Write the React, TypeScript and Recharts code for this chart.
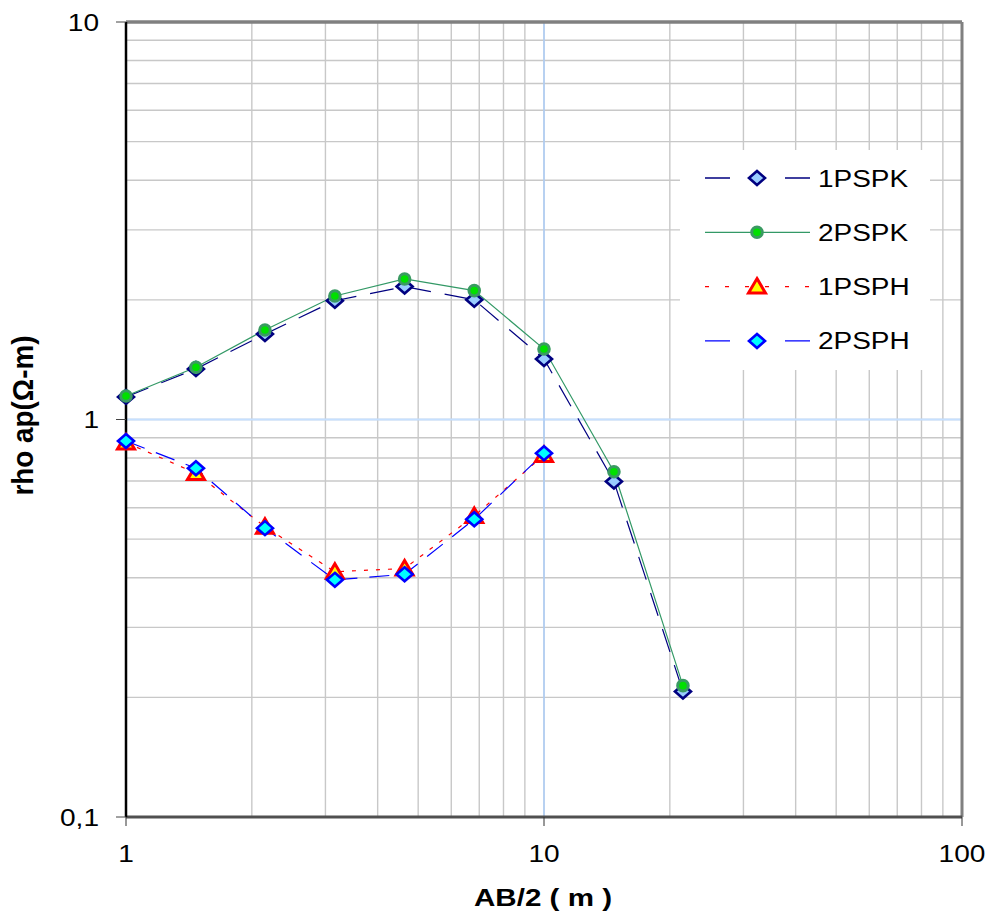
import React from 'react';
import { LineChart, Line, XAxis, YAxis, CartesianGrid, ReferenceLine, Legend, Label } from 'recharts';

// ---- data ----
const abHalf = [1, 1.47, 2.15, 3.16, 4.64, 6.81, 10, 14.7, 21.5];
const rho1PSPK = [1.14, 1.34, 1.64, 1.99, 2.16, 2.0, 1.42, 0.698, 0.207];
const rho2PSPK = [1.146, 1.353, 1.68, 2.045, 2.257, 2.11, 1.504, 0.739, 0.214];
const rho1PSPH = [0.875, 0.733, 0.537, 0.414, 0.422, 0.572, 0.814];
const rho2PSPH = [0.883, 0.754, 0.533, 0.395, 0.408, 0.561, 0.822];
const seriesNames = ['1PSPK', '2PSPK', '1PSPH', '2PSPH'];

const xTicks = [1, 2, 3, 4, 5, 6, 7, 8, 9, 10, 20, 30, 40, 50, 60, 70, 80, 90, 100];
const yTicks = [0.1, 0.2, 0.3, 0.4, 0.5, 0.6, 0.7, 0.8, 0.9, 1, 2, 3, 4, 5, 6, 7, 8, 9, 10];
const xMajorLabels: Record<string, string> = { '1': '1', '10': '10', '100': '100' };
const yMajorLabels: Record<string, string> = { '0.1': '0,1', '1': '1', '10': '10' };
const xTitle = 'AB/2 ( m )';
const yTitle = 'rho ap(\u03A9-m)';

const toPoints = (ys: number[]) => ys.map((y, i) => ({ x: abHalf[i], y }));

const FONT = '"Liberation Sans", Arial, sans-serif';
const X_TICK_SIZE = 9;
const X_TICK_MARGIN = 7;
const Y_TICK_SIZE = 10;
const Y_TICK_MARGIN = 17;
const SX = 1.17;

// ---- markers ----
const DiamondShape = ({ cx, cy, fill, stroke }: any) => (
  <path
    d={`M${cx},${cy - 7}L${cx + 8},${cy}L${cx},${cy + 7}L${cx - 8},${cy}Z`}
    fill={fill}
    stroke={stroke}
    strokeWidth={2.6}
    strokeLinejoin="miter"
  />
);
const CircleShape = ({ cx, cy }: any) => (
  <circle cx={cx} cy={cy} r={5.3} fill="#00e000" stroke="#3a9a62" strokeWidth={3} />
);
const TriangleShape = ({ cx, cy }: any) => (
  <path
    d={`M${cx},${cy - 8}L${cx + 8.5},${cy + 6.5}L${cx - 8.5},${cy + 6.5}Z`}
    fill="#ffff00"
    stroke="#ff0000"
    strokeWidth={3}
    strokeLinejoin="miter"
  />
);

const seriesStyles = [
  { color: '#000080', dash: '24 14', legendDash: '25 55', marker: (cx: number, cy: number) => <DiamondShape cx={cx} cy={cy} fill="#99ccff" stroke="#000080" /> },
  { color: '#339966', dash: undefined, legendDash: undefined, marker: (cx: number, cy: number) => <CircleShape cx={cx} cy={cy} /> },
  { color: '#ff0000', dash: '4 8', legendDash: '4 16', marker: (cx: number, cy: number) => <TriangleShape cx={cx} cy={cy} /> },
  { color: '#0000ff', dash: '20 12', legendDash: '25 55', marker: (cx: number, cy: number) => <DiamondShape cx={cx} cy={cy} fill="#00ffff" stroke="#0000ff" /> },
];

const makeDot = (idx: number) => (props: any) => {
  const { cx, cy, index } = props;
  if (cx == null || cy == null) return <g key={`e-${idx}-${index}`} />;
  return <g key={`m-${idx}-${index}`}>{seriesStyles[idx].marker(cx, cy)}</g>;
};

// ---- ticks ----
const XTick = (props: any) => {
  const { x, y, payload } = props;
  const label = xMajorLabels[String(payload.value)];
  if (label === undefined) return <g />;
  const axisY = y - X_TICK_MARGIN - X_TICK_SIZE;
  return (
    <g>
      <line x1={x} x2={x} y1={axisY} y2={axisY + X_TICK_SIZE} stroke="#333" strokeWidth={1} />
      <text
        transform={`translate(${x},${y + 29}) scale(${SX},1)`}
        textAnchor="middle"
        fontFamily={FONT}
        fontSize={24}
        fill="#000"
      >
        {label}
      </text>
    </g>
  );
};

const YTick = (props: any) => {
  const { x, y, payload } = props;
  const key = String(Math.round(payload.value * 1000) / 1000);
  const label = yMajorLabels[key];
  if (label === undefined) return <g />;
  const axisX = x + Y_TICK_MARGIN + Y_TICK_SIZE;
  return (
    <g>
      <line x1={axisX - Y_TICK_SIZE} x2={axisX} y1={y} y2={y} stroke="#444" strokeWidth={1} />
      <text
        transform={`translate(${x},${y + 8.5}) scale(${SX},1)`}
        textAnchor="end"
        fontFamily={FONT}
        fontSize={24}
        fill="#000"
      >
        {label}
      </text>
    </g>
  );
};

const XTitle = (props: any) => {
  const vb = props.viewBox || {};
  const cx = vb.x + vb.width / 2 - 1;
  const by = vb.y + 89;
  return (
    <text
      x={cx}
      y={by}
      textAnchor="middle"
      fontFamily={FONT}
      fontWeight="bold"
      fontSize={23}
      textLength={138}
      lengthAdjust="spacingAndGlyphs"
      fill="#000"
    >
      {xTitle}
    </text>
  );
};

const YTitle = (props: any) => {
  const vb = props.viewBox || {};
  const bx = vb.x - 33;
  const cy = vb.y + vb.height / 2 - 4;
  return (
    <text
      transform={`translate(${bx},${cy}) scale(1.2,1) rotate(-90)`}
      x={0}
      y={0}
      textAnchor="middle"
      fontFamily={FONT}
      fontWeight="bold"
      fontSize={24}
      textLength={160}
      lengthAdjust="spacingAndGlyphs"
      fill="#000"
    >
      {yTitle}
    </text>
  );
};

// ---- legend ----
const LegendBox = () => (
  <svg width={250} height={220} style={{ display: 'block', background: '#fff' }}>
    {seriesNames.map((name, i) => {
      const cy = 28 + i * 54.3;
      const st = seriesStyles[i];
      return (
        <g key={name}>
          <line
            x1={25}
            x2={130}
            y1={cy}
            y2={cy}
            stroke={st.color}
            strokeWidth={1.3}
            strokeDasharray={st.legendDash}
          />
          {st.marker(77, cy)}
          <text
            transform={`translate(138,${cy + 8.5}) scale(1.19,1)`}
            fontFamily={FONT}
            fontSize={23.5}
            fill="#000"
          >
            {name}
          </text>
        </g>
      );
    })}
  </svg>
);

export default function App() {
  const series = [rho1PSPK, rho2PSPK, rho1PSPH, rho2PSPH];
  return (
    <div style={{ position: 'absolute', left: 0, top: 0, width: 992, height: 915, background: '#fff' }}>
      <LineChart width={992} height={915} margin={{ top: 22, right: 30, left: 66, bottom: 68 }}>
        <CartesianGrid stroke="#c8c8c8" strokeWidth={1.4} />
        <XAxis
          dataKey="x"
          type="number"
          scale="log"
          domain={[1, 100]}
          ticks={xTicks}
          interval={0}
          tick={<XTick />}
          tickLine={false}
          tickSize={X_TICK_SIZE}
          tickMargin={X_TICK_MARGIN}
          height={30}
          axisLine={{ stroke: '#505050', strokeWidth: 3 }}
        >
          <Label content={<XTitle />} />
        </XAxis>
        <YAxis
          dataKey="y"
          type="number"
          scale="log"
          domain={[0.1, 10]}
          ticks={yTicks}
          interval={0}
          tick={<YTick />}
          tickLine={false}
          tickSize={Y_TICK_SIZE}
          tickMargin={Y_TICK_MARGIN}
          width={60}
          axisLine={{ stroke: '#000', strokeWidth: 2.5 }}
        >
          <Label content={<YTitle />} />
        </YAxis>
        <ReferenceLine y={1} stroke="#c6e0ff" strokeWidth={2} />
        <ReferenceLine x={10} stroke="#a8ceff" strokeWidth={1.3} />
        <ReferenceLine y={10} stroke="#808080" strokeWidth={3.5} />
        <ReferenceLine x={100} stroke="#808080" strokeWidth={3} />
        {series.map((ys, i) => (
          <Line
            key={seriesNames[i]}
            name={seriesNames[i]}
            data={toPoints(ys)}
            dataKey="y"
            type="linear"
            stroke={seriesStyles[i].color}
            strokeWidth={1.2}
            strokeDasharray={seriesStyles[i].dash}
            dot={makeDot(i)}
            activeDot={false}
            isAnimationActive={false}
          />
        ))}
        <Legend
          layout="vertical"
          align="center"
          verticalAlign="middle"
          content={<LegendBox />}
          wrapperStyle={{ left: 680, top: 150, width: 250, height: 220, background: '#fff' }}
        />
      </LineChart>
    </div>
  );
}
